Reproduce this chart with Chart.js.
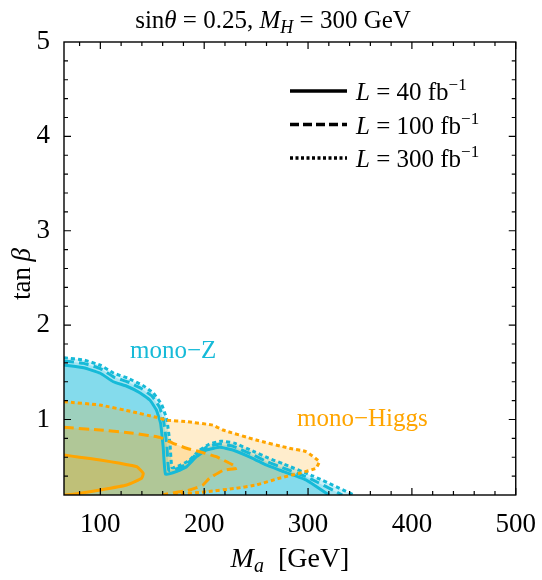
<!DOCTYPE html>
<html>
<head>
<meta charset="utf-8">
<script src="https://cdn.jsdelivr.net/npm/chart.js@4/dist/chart.umd.min.js"></script>
<style>
  html, body { margin: 0; padding: 0; background: #fff; }
  #wrap { width: 542px; height: 580px; }
</style>
</head>
<body>
<div id="wrap"><canvas id="chart" width="542" height="580"></canvas></div>
<script>
// axis ranges and ticks
const xRange = [65, 500];
const yRange = [0.2, 5];
const xTicks = [100, 200, 300, 400, 500];
const yTicks = [1, 2, 3, 4, 5];

// mono-Z contours [M_a, tan beta]
const monoZ40 = [[65,1.577],[84,1.549],[100,1.49],[112.5,1.40],[125,1.355],[138,1.284],[147.7,1.206],[154,1.10],[158,0.96],[160.5,0.71],[162.8,0.42],[173,0.447],[183,0.50],[192.5,0.606],[202,0.677],[215,0.705],[227.6,0.677],[246.7,0.589],[259.6,0.518],[272.3,0.465],[298,0.36],[320,0.2]];
const monoZ100 = [[65,1.62],[84,1.595],[100,1.54],[113,1.45],[126,1.40],[140,1.325],[150,1.245],[157,1.13],[161,0.98],[164,0.73],[166,0.46],[174,0.48],[184,0.535],[193,0.64],[203,0.71],[215,0.74],[228,0.715],[247,0.625],[260,0.555],[273,0.50],[300,0.385],[333,0.2]];
const monoZ300 = [[65,1.655],[84,1.63],[100,1.575],[113,1.49],[126,1.44],[141,1.36],[151,1.28],[159,1.16],[164,1.0],[167,0.75],[169,0.49],[176,0.51],[186,0.57],[195,0.67],[205,0.74],[216,0.77],[229,0.75],[248,0.66],[262,0.59],[276,0.53],[305,0.40],[344,0.2]];

// mono-Higgs contours
const monoH40 = [[65,0.624],[80,0.60],[99.8,0.571],[119,0.536],[135,0.50],[141.3,0.43],[139.8,0.377],[125.4,0.306],[99.8,0.253],[74,0.207],[65,0.2]];
const monoH100 = [[65,0.917],[99.8,0.889],[131.7,0.854],[157.3,0.811],[170,0.748],[183,0.695],[195.6,0.659],[211.6,0.606],[227.6,0.518],[231.4,0.483],[218,0.46],[205,0.377],[198.8,0.306],[186,0.253],[163.7,0.21],[160,0.2]];
const monoH300 = [[65,1.188],[99.8,1.153],[131.7,1.08],[154,1.023],[163.7,0.994],[183,0.977],[208.4,0.94],[218,0.889],[250,0.783],[282,0.695],[298,0.66],[310.7,0.554],[307.5,0.483],[291.5,0.43],[272.3,0.377],[250,0.306],[230.8,0.271],[202,0.235],[170,0.2]];

const cyanLine = 'rgb(22,186,216)';
const cyanFill = 'rgba(0,178,216,0.2)';
const orangeLine = 'rgb(255,165,0)';
const orangeFill = 'rgba(255,165,0,0.2)';
const serif = '"Liberation Serif", "DejaVu Serif", serif';

function pts(arr) {
    return arr.map(p => ({ x: p[0], y: p[1] }));
}

function contour(arr, color, dash) {
    return {
        data: pts(arr),
        showLine: true,
        borderColor: color,
        borderWidth: 3,
        borderDash: dash,
        borderCapStyle: 'butt',
        pointRadius: 0,
        fill: false,
        tension: 0.12
    };
}

// rich text: parts = [text, italic, size, dy]
function richText(ctx, parts, x, y, align) {
    let w = 0;
    parts.forEach(p => {
        ctx.font = (p[1] ? 'italic ' : '') + p[2] + 'px ' + serif;
        w += ctx.measureText(p[0]).width;
    });
    let cx = align === 'center' ? x - w / 2 : x;
    ctx.textAlign = 'left';
    ctx.textBaseline = 'alphabetic';
    parts.forEach(p => {
        ctx.font = (p[1] ? 'italic ' : '') + p[2] + 'px ' + serif;
        ctx.fillText(p[0], cx, y + (p[3] || 0));
        cx += ctx.measureText(p[0]).width;
    });
}

// fills the contour regions (closed along the bottom of the plot)
const fillPlugin = {
    id: 'contourFill',
    beforeDatasetsDraw(chart) {
        const { ctx, chartArea, scales: { x, y } } = chart;
        const regions = [
            [monoZ300, cyanFill], [monoZ100, cyanFill], [monoZ40, cyanFill],
            [monoH300, orangeFill], [monoH100, orangeFill], [monoH40, orangeFill]
        ];
        ctx.save();
        ctx.beginPath();
        ctx.rect(chartArea.left, chartArea.top, chartArea.width, chartArea.height);
        ctx.clip();
        regions.forEach(([arr, col]) => {
            const poly = arr.concat([[arr[arr.length - 1][0], yRange[0] - 0.1], [arr[0][0] - 5, yRange[0] - 0.1], [arr[0][0] - 5, arr[0][1]]]);
            ctx.beginPath();
            poly.forEach((p, i) => {
                const px = x.getPixelForValue(p[0]);
                const py = y.getPixelForValue(p[1]);
                if (i === 0) ctx.moveTo(px, py); else ctx.lineTo(px, py);
            });
            ctx.closePath();
            ctx.fillStyle = col;
            ctx.fill();
        });
        ctx.restore();
    }
};

// frame, inward ticks, titles, legend and labels
const decorPlugin = {
    id: 'decor',
    afterDraw(chart) {
        const { ctx, chartArea: a, scales: { x, y } } = chart;
        ctx.save();
        ctx.strokeStyle = '#000';
        ctx.lineWidth = 1.4;
        ctx.setLineDash([]);
        ctx.strokeRect(a.left, a.top, a.right - a.left, a.bottom - a.top);

        ctx.lineWidth = 1.2;
        ctx.beginPath();
        for (let v = 80; v <= xRange[1]; v += 20) {
            const len = v % 100 === 0 ? 7 : 4;
            const px = x.getPixelForValue(v);
            ctx.moveTo(px, a.bottom); ctx.lineTo(px, a.bottom - len);
            ctx.moveTo(px, a.top); ctx.lineTo(px, a.top + len);
        }
        for (let k = 2; k <= 24; k++) {
            const v = k / 5;
            const len = k % 5 === 0 ? 7 : 4;
            const py = y.getPixelForValue(v);
            ctx.moveTo(a.left, py); ctx.lineTo(a.left + len, py);
            ctx.moveTo(a.right, py); ctx.lineTo(a.right - len, py);
        }
        ctx.stroke();

        ctx.fillStyle = '#000';
        richText(ctx, [['sin', false, 25], ['θ', true, 25], [' = 0.25, ', false, 25], ['M', true, 25], ['H', true, 18, 5], [' = 300 GeV', false, 25]], 273, 28, 'center');
        richText(ctx, [['M', true, 28], ['a', true, 20, 5], ['  [GeV]', false, 28]], 290, 567, 'center');

        ctx.save();
        ctx.translate(30, 274);
        ctx.rotate(-Math.PI / 2);
        richText(ctx, [['tan\u2009', false, 27], ['β', true, 27]], 0, 0, 'center');
        ctx.restore();

        // legend
        const rows = [['40', []], ['100', [9, 4]], ['300', [3, 2.5]]];
        rows.forEach((r, i) => {
            const ly = 91 + i * 33.5;
            ctx.strokeStyle = '#000';
            ctx.lineWidth = 3.5;
            ctx.setLineDash(r[1]);
            ctx.beginPath();
            ctx.moveTo(290, ly); ctx.lineTo(347, ly);
            ctx.stroke();
            ctx.setLineDash([]);
            ctx.fillStyle = '#000';
            richText(ctx, [['L', true, 25], [' = ' + r[0] + ' fb', false, 25], ['−1', false, 17, -10]], 356, ly + 9, 'left');
        });

        ctx.fillStyle = cyanLine;
        richText(ctx, [['mono−Z', false, 25]], 130, 358, 'left');
        ctx.fillStyle = orangeLine;
        richText(ctx, [['mono−Higgs', false, 25]], 297, 426, 'left');
        ctx.restore();
    }
};

new Chart(document.getElementById('chart'), {
    type: 'scatter',
    data: {
        datasets: [
            contour(monoH40, orangeLine, []),
            contour(monoH100, orangeLine, [10, 5]),
            contour(monoH300, orangeLine, [4, 3]),
            contour(monoZ40, cyanLine, []),
            contour(monoZ100, cyanLine, [10, 5]),
            contour(monoZ300, cyanLine, [4, 3])
        ]
    },
    options: {
        responsive: false,
        animation: false,
        layout: { padding: { top: 42, right: 25, left: 0, bottom: 0 } },
        plugins: { legend: { display: false }, tooltip: { enabled: false } },
        scales: {
            x: {
                type: 'linear',
                min: xRange[0],
                max: xRange[1],
                afterBuildTicks: s => { s.ticks = xTicks.map(v => ({ value: v })); },
                afterFit: s => { s.height = 85; },
                grid: { display: false },
                border: { display: false },
                ticks: { color: '#000', font: { family: serif, size: 27 }, padding: 6, maxRotation: 0 }
            },
            y: {
                type: 'linear',
                min: yRange[0],
                max: yRange[1],
                afterBuildTicks: s => { s.ticks = yTicks.map(v => ({ value: v })); },
                afterFit: s => { s.width = 64; },
                grid: { display: false },
                border: { display: false },
                ticks: { color: '#000', font: { family: serif, size: 27 }, padding: 6 }
            }
        }
    },
    plugins: [fillPlugin, decorPlugin]
});
</script>
</body>
</html>
